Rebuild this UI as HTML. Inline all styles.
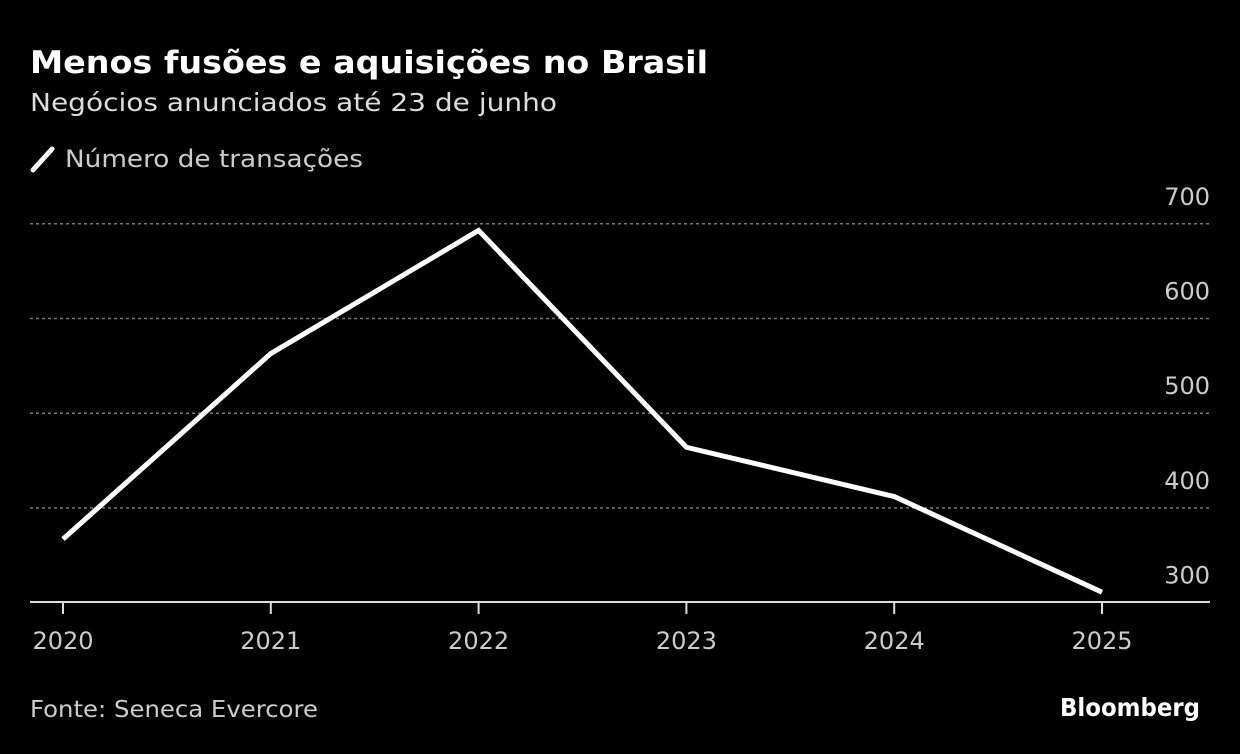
<!DOCTYPE html>
<html><head><meta charset="utf-8"><style>
body{margin:0;background:#000;width:1240px;height:750px;overflow:hidden;font-family:"DejaVu Sans",sans-serif;color:#fff}
svg text{font-family:"DejaVu Sans","Liberation Sans",sans-serif}
</style></head><body>
<svg width="1240" height="750">
<rect width="1240" height="750" fill="#000"/>
<text x="30" y="73" font-size="31" font-weight="bold" fill="#fff" textLength="678" lengthAdjust="spacingAndGlyphs">Menos fusões e aquisições no Brasil</text>
<text x="30" y="111" font-size="25" fill="#ddd" textLength="527" lengthAdjust="spacingAndGlyphs">Negócios anunciados até 23 de junho</text>
<line x1="33" y1="170" x2="52" y2="149" stroke="#fff" stroke-width="5" stroke-linecap="round"/>
<text x="65" y="167" font-size="24" fill="#ccc" textLength="298" lengthAdjust="spacingAndGlyphs">Número de transações</text>
<g id="grid"></g><g id="xaxis"></g>
<polyline id="line" fill="none" stroke="#fff" stroke-width="5" stroke-linejoin="miter"/>
<text x="30" y="717" font-size="23" fill="#ccc" textLength="288" lengthAdjust="spacingAndGlyphs">Fonte: Seneca Evercore</text>
<text x="1200" y="716" font-size="25" font-weight="bold" fill="#fff" text-anchor="end" textLength="140" lengthAdjust="spacingAndGlyphs">Bloomberg</text>
</svg>
<script>
const categories=["2020","2021","2022","2023","2024","2025"];
const values=[367,563,693,464,412,311];
const yTicks=[300,400,500,600,700];
const NS="http://www.w3.org/2000/svg";
const xs=i=>63+i*207.8;
const ys=v=>602.6-(v-300)*0.947;
const grid=document.getElementById('grid'),xa=document.getElementById('xaxis');
function mk(tag,attrs,parent){const e=document.createElementNS(NS,tag);for(const k in attrs)e.setAttribute(k,attrs[k]);parent.appendChild(e);return e;}
yTicks.forEach(v=>{
 if(v>300){const l=mk('line',{x1:30,x2:1210,y1:ys(v),y2:ys(v),stroke:'#777','stroke-width':1.5,'stroke-dasharray':'3,3'},grid);
 
 }
 const t=mk('text',{x:1210,y:ys(v)-19,'font-size':24,fill:'#ccc','text-anchor':'end'},grid);t.textContent=v;
 
 
});
const ax=mk('line',{x1:30,x2:1210,y1:602,y2:602,stroke:'#ddd','stroke-width':2},xa);


categories.forEach((c,i)=>{
 const tk=mk('line',{x1:xs(i),x2:xs(i),y1:602,y2:614,stroke:'#ddd','stroke-width':2},xa);
 
 
 const t=mk('text',{x:xs(i),y:649,'font-size':24,fill:'#ccc','text-anchor':'middle'},xa);t.textContent=c;
 
 
});
document.getElementById('line').setAttribute('points',values.map((v,i)=>xs(i)+','+ys(v)).join(' '));
</script>
</body></html>
